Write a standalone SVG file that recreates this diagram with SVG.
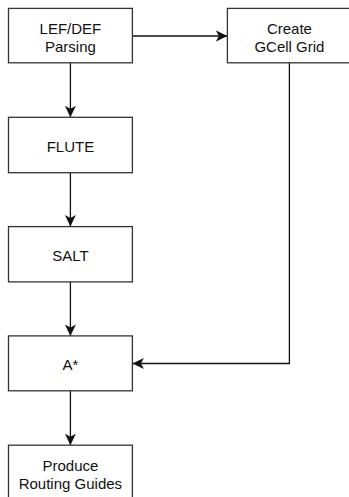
<svg xmlns="http://www.w3.org/2000/svg" width="349" height="497" viewBox="0 0 349 497">
<style>
.box{fill:#fff;stroke:#333;stroke-width:1.3}
.lbl{font-family:"Liberation Sans",Arial,Helvetica,sans-serif;font-size:15px;fill:#111;text-anchor:middle}
.ln{fill:none;stroke:#111;stroke-width:1.3}
</style>
<defs>
<marker id="arr" markerUnits="userSpaceOnUse" markerWidth="12" markerHeight="12" viewBox="0 0 12 12" refX="11.5" refY="6" orient="auto">
<path d="M0,0.5 L11.5,6 L0,11.5 L3,6 Z" fill="#111"/>
</marker>
</defs>
<rect width="349" height="497" fill="#fff"/>
<g id="connectors">
<line class="ln" x1="70.4" y1="62.8" x2="70.4" y2="117.3" marker-end="url(#arr)"/>
<line class="ln" x1="70.4" y1="172.7" x2="70.4" y2="226.6" marker-end="url(#arr)"/>
<line class="ln" x1="70.4" y1="281.9" x2="70.4" y2="335.9" marker-end="url(#arr)"/>
<line class="ln" x1="70.4" y1="390.8" x2="70.4" y2="445.2" marker-end="url(#arr)"/>
<line class="ln" x1="132.4" y1="36" x2="227.4" y2="36" marker-end="url(#arr)"/>
<polyline class="ln" points="289.4,62.8 289.4,363.5 132.4,363.5" marker-end="url(#arr)"/>
</g>
<g id="lefdef">
<rect class="box" x="8.5" y="8.4" width="123.9" height="54.4"/>
<text class="lbl" x="70.4" y="34">LEF/DEF</text>
<text class="lbl" x="70.4" y="51.5">Parsing</text>
</g>
<g id="gcell">
<rect class="box" x="227.4" y="8.4" width="123.9" height="54.4"/>
<text class="lbl" x="289.4" y="34">Create</text>
<text class="lbl" x="289.4" y="51.5">GCell Grid</text>
</g>
<g id="flute">
<rect class="box" x="8.5" y="117.3" width="123.9" height="55.4"/>
<text class="lbl" x="70.4" y="151.6">FLUTE</text>
</g>
<g id="salt">
<rect class="box" x="8.5" y="226.6" width="123.9" height="55.3"/>
<text class="lbl" x="70.4" y="260.9">SALT</text>
</g>
<g id="astar">
<rect class="box" x="8.5" y="335.9" width="123.9" height="54.9"/>
<text class="lbl" x="70.4" y="370">A*</text>
</g>
<g id="produce">
<rect class="box" x="8.5" y="445.2" width="123.9" height="55"/>
<text class="lbl" x="70.4" y="471">Produce</text>
<text class="lbl" x="70.4" y="488.5">Routing Guides</text>
</g>
</svg>
